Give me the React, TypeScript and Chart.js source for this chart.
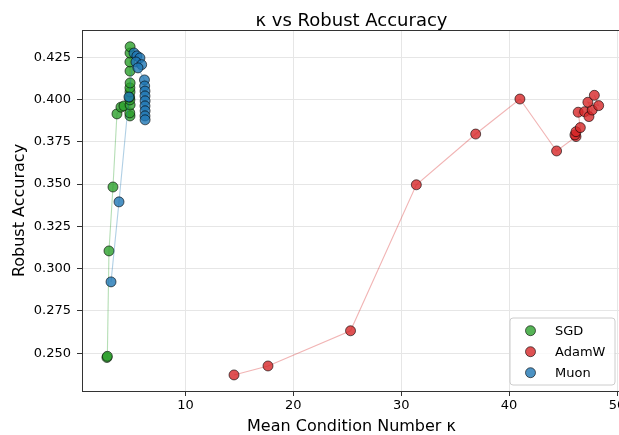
import React, { useEffect, useRef } from "react";
import { Chart, registerables } from "chart.js";

Chart.register(...registerables);

// ---- data ----
const sgdKappa = [2.72, 2.76, 2.91, 3.28, 3.65, 4.02, 4.30, 4.86, 4.84, 4.87, 4.85, 4.83, 4.86, 4.85, 4.87, 4.86, 4.85, 4.86, 4.87];
const sgdAcc = [0.2475, 0.2482, 0.3105, 0.3483, 0.3915, 0.3955, 0.3962, 0.3903, 0.3921, 0.3968, 0.3998, 0.4015, 0.4045, 0.4069, 0.4098, 0.4168, 0.4222, 0.4275, 0.4312];

const adamKappa = [14.5, 17.65, 25.3, 31.4, 36.9, 41.0, 44.4, 46.2, 46.1, 46.2, 46.6, 46.4, 47.0, 47.4, 47.7, 47.3, 48.3, 47.9];
const adamAcc = [0.2372, 0.2425, 0.2633, 0.3496, 0.3796, 0.4003, 0.3696, 0.3781, 0.3791, 0.3810, 0.3834, 0.3925, 0.3928, 0.3899, 0.3938, 0.3984, 0.3964, 0.4025];

const muonKappa = [3.10, 3.84, 4.76, 5.23, 5.50, 5.78, 5.41, 5.94, 5.60, 6.20, 6.22, 6.25, 6.25, 6.26, 6.25, 6.26, 6.25, 6.26];
const muonAcc = [0.2922, 0.3395, 0.4015, 0.4275, 0.4258, 0.4246, 0.4222, 0.4206, 0.4187, 0.4116, 0.4080, 0.4050, 0.4021, 0.3992, 0.3962, 0.3933, 0.3903, 0.3880];

const seriesNames = ["SGD", "AdamW", "Muon"];
const xTicks = [10, 20, 30, 40, 50];
const yTicks = [0.25, 0.275, 0.3, 0.325, 0.35, 0.375, 0.4, 0.425];
const xRange = [0.41, 50.37];
const yRange = [0.2277, 0.4411];
const titleText = "κ vs Robust Accuracy";
const xLabel = "Mean Condition Number κ";
const yLabel = "Robust Accuracy";

// ---- styles ----
const FONT = "DejaVu Sans";
const fills = ["rgba(44,160,44,0.8)", "rgba(214,39,40,0.8)", "rgba(31,119,180,0.8)"];
const lines = ["rgba(44,160,44,0.35)", "rgba(214,39,40,0.35)", "rgba(31,119,180,0.35)"];
const edge = "rgba(0,0,0,0.75)";

const W = 660;
const H = 435;

const decorPlugin = {
  id: "decor",
  afterDraw(chart: any) {
    const { ctx, chartArea: a } = chart;
    ctx.save();
    // top & right spines
    ctx.strokeStyle = "#333";
    ctx.lineWidth = 1;
    ctx.beginPath();
    const ty = Math.round(a.top) + 0.5;
    const rx = Math.round(a.right) + 0.5;
    ctx.moveTo(a.left, ty);
    ctx.lineTo(a.right + 1, ty);
    ctx.moveTo(rx, a.top);
    ctx.lineTo(rx, a.bottom);
    ctx.stroke();

    // title
    ctx.fillStyle = "#000";
    ctx.font = `18px "${FONT}"`;
    ctx.textAlign = "center";
    ctx.textBaseline = "alphabetic";
    ctx.fillText(titleText, (a.left + a.right) / 2, 25.5);

    // legend
    const bw = 105;
    const bh = 67;
    const bx = a.right - 6 - bw;
    const by = a.bottom - 6 - bh;
    ctx.beginPath();
    const r = 3;
    ctx.moveTo(bx + r, by);
    ctx.lineTo(bx + bw - r, by);
    ctx.quadraticCurveTo(bx + bw, by, bx + bw, by + r);
    ctx.lineTo(bx + bw, by + bh - r);
    ctx.quadraticCurveTo(bx + bw, by + bh, bx + bw - r, by + bh);
    ctx.lineTo(bx + r, by + bh);
    ctx.quadraticCurveTo(bx, by + bh, bx, by + bh - r);
    ctx.lineTo(bx, by + r);
    ctx.quadraticCurveTo(bx, by, bx + r, by);
    ctx.closePath();
    ctx.fillStyle = "rgba(255,255,255,0.8)";
    ctx.fill();
    ctx.strokeStyle = "#cccccc";
    ctx.lineWidth = 1;
    ctx.stroke();

    ctx.font = `13px "${FONT}"`;
    ctx.textAlign = "left";
    ctx.textBaseline = "middle";
    seriesNames.forEach((name, i) => {
      const cy = by + 12.7 + i * 21;
      ctx.beginPath();
      ctx.arc(bx + 20.5, cy, 5, 0, Math.PI * 2);
      ctx.fillStyle = fills[i];
      ctx.fill();
      ctx.strokeStyle = edge;
      ctx.lineWidth = 0.8;
      ctx.stroke();
      ctx.fillStyle = "#000";
      ctx.fillText(name, bx + 45, cy + 0.5);
    });
    ctx.restore();
  },
};

export default function App() {
  const ref = useRef<HTMLCanvasElement | null>(null);

  useEffect(() => {
    document.documentElement.style.overflow = "hidden";
    document.body.style.overflow = "hidden";
    const canvas = ref.current;
    if (!canvas) return;

    const mk = (i: number, xs: number[], ys: number[], order: number) => ({
      label: seriesNames[i],
      data: xs.map((x, k) => ({ x, y: ys[k] })),
      showLine: true,
      borderColor: lines[i],
      borderWidth: 1.1,
      backgroundColor: fills[i],
      pointBackgroundColor: fills[i],
      pointBorderColor: edge,
      pointBorderWidth: 0.8,
      pointRadius: 5,
      pointHoverRadius: 5,
      order,
    });

    const chart = new Chart(canvas, {
      type: "scatter",
      data: {
        datasets: [
          mk(0, sgdKappa, sgdAcc, 3),
          mk(1, adamKappa, adamAcc, 2),
          mk(2, muonKappa, muonAcc, 1),
        ],
      },
      options: {
        responsive: false,
        devicePixelRatio: 1,
        animation: false,
        events: [],
        layout: { padding: { left: 0, top: 30, right: 39, bottom: 0 } },
        plugins: {
          legend: { display: false },
          title: { display: false },
          tooltip: { enabled: false },
        },
        scales: {
          x: {
            type: "linear",
            min: xRange[0],
            max: xRange[1],
            afterBuildTicks: (s: any) => {
              s.ticks = xTicks.map((v) => ({ value: v }));
            },
            afterFit: (s: any) => {
              s.height = 44;
            },
            grid: { color: "#e6e6e6", lineWidth: 1, tickColor: "#333", tickLength: 5, drawTicks: true },
            border: { display: true, color: "#333", width: 1 },
            ticks: {
              font: { family: FONT, size: 13 },
              color: "#000",
              padding: 2,
              maxRotation: 0,
              callback: (v: any) => String(v),
            },
            title: {
              display: true,
              text: xLabel,
              color: "#000",
              font: { family: FONT, size: 16, lineHeight: 1 },
              padding: { top: 0, bottom: 0 },
            },
          },
          y: {
            type: "linear",
            min: yRange[0],
            max: yRange[1],
            afterBuildTicks: (s: any) => {
              s.ticks = yTicks.map((v) => ({ value: v }));
            },
            afterFit: (s: any) => {
              s.width = 82;
            },
            grid: { color: "#e6e6e6", lineWidth: 1, tickColor: "#333", tickLength: 5, drawTicks: true },
            border: { display: true, color: "#333", width: 1 },
            ticks: {
              font: { family: FONT, size: 13 },
              color: "#000",
              padding: 6,
              callback: (v: any) => Number(v).toFixed(3),
            },
            title: {
              display: true,
              text: yLabel,
              color: "#000",
              font: { family: FONT, size: 16, lineHeight: 1.2 },
              padding: { top: 10, bottom: 0 },
            },
          },
        },
      },
      plugins: [decorPlugin],
    } as any);

    return () => chart.destroy();
  }, []);

  return (
    <div style={{ position: "fixed", left: 0, top: 0, width: W, height: H, overflow: "hidden", background: "#fff" }}>
      <canvas ref={ref} width={W} height={H} style={{ display: "block", width: W, height: H }} />
    </div>
  );
}
